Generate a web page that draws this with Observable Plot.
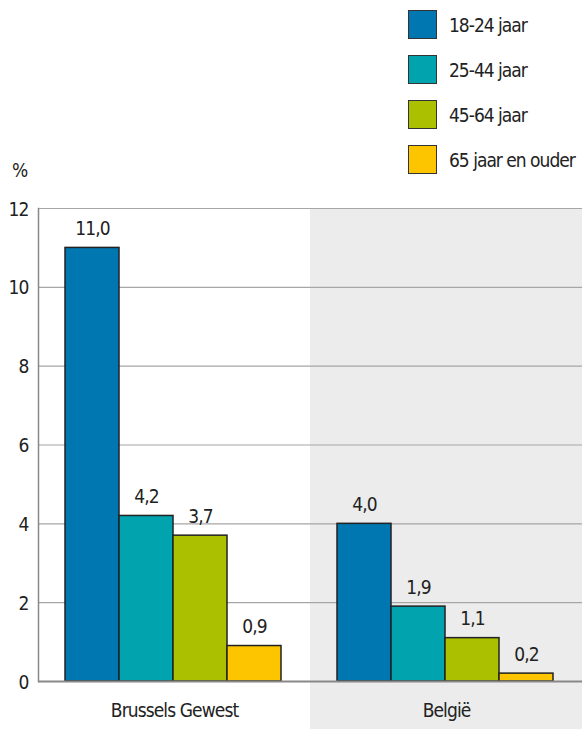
<!DOCTYPE html>
<html>
<head>
<meta charset="utf-8">
<script src="https://cdn.jsdelivr.net/npm/d3@7"></script>
<script src="https://cdn.jsdelivr.net/npm/@observablehq/plot@0.6"></script>
<style>
  html, body { margin: 0; padding: 0; background: #fff; }
  #wrap { position: relative; width: 582px; height: 729px; overflow: hidden;
          font-family: "DejaVu Sans", sans-serif; font-stretch: condensed; color: #222; }
  #chart { position: absolute; left: 0; top: 0; }
  #chart svg text { letter-spacing: -0.9px; font-stretch: condensed; }
  .legend-item { position: absolute; left: 408px; height: 29px; display: flex; align-items: center; }
  .legend-item .sw { width: 27px; height: 27px; border: 1.5px solid #333; box-sizing: content-box; }
  .legend-item .lb { position: absolute; left: 41px; white-space: nowrap; font-size: 19px; letter-spacing: -1px; }
  #unit { position: absolute; left: 12px; top: 159px; font-size: 19px; }
</style>
</head>
<body>
<div id="wrap">
  <div id="chart"></div>
  <div id="legend"></div>
  <div id="unit">%</div>
</div>
<script>
const regions = ["Brussels Gewest", "België"];
const ageGroups = ["18-24 jaar", "25-44 jaar", "45-64 jaar", "65 jaar en ouder"];
const brusselsValues = [11.0, 4.2, 3.7, 0.9];
const belgieValues = [4.0, 1.9, 1.1, 0.2];
const colors = ["#0077b0", "#00a3ae", "#abc100", "#fdc400"];
const yTicks = [0, 2, 4, 6, 8, 10, 12];

const seriesByRegion = [brusselsValues, belgieValues];
const data = [];
regions.forEach((r, ri) => ageGroups.forEach((a, ai) => data.push({region: r, age: a, value: seriesByRegion[ri][ai]})));

const fmt = v => d3.format(".1f")(v).replace(".", ",");
const font = '"DejaVu Sans", sans-serif';

const chart = Plot.plot({
  width: 582,
  height: 729,
  marginTop: 208,
  marginBottom: 48,
  marginLeft: 38,
  marginRight: 0,
  style: {fontFamily: font, fontSize: "19px", color: "#222", background: "transparent", overflow: "visible"},
  fx: {domain: regions, padding: 0, label: null},
  x: {domain: ageGroups, paddingInner: 0, paddingOuter: 0.49, axis: null},
  y: {domain: [0, 12], label: null},
  color: {domain: ageGroups, range: colors},
  marks: [
    Plot.rect([{region: "België"}], {fx: "region", fill: "#ebeceb", insetBottom: -48, insetTop: 1}),
    Plot.gridY(yTicks, {stroke: "#a6a6a6", strokeOpacity: 1, strokeWidth: 1.2}),
    Plot.axisY(yTicks, {tickSize: 0, tickPadding: 10, label: null, dy: 1, fill: "#222"}),
    Plot.axisFx({anchor: "bottom", tickSize: 0, tickPadding: 22, label: null, fill: "#222"}),
    Plot.frame({anchor: "left", fx: () => "Brussels Gewest", stroke: "#888", strokeWidth: 1.5}),
    Plot.barY(data, {fx: "region", x: "age", y: "value", fill: "age", stroke: "#222", strokeWidth: 1.5, dx: -1}),
    Plot.ruleY([0], {stroke: "#888", strokeWidth: 2}),
    Plot.text(data, {fx: "region", x: "age", y: "value", text: d => fmt(d.value), dy: -19, dx: -1, fontSize: 19, fill: "#222"})
  ]
});
document.getElementById("chart").appendChild(chart);

const legend = document.getElementById("legend");
ageGroups.forEach((a, i) => {
  const item = document.createElement("div");
  item.className = "legend-item";
  item.style.top = (10 + i * 45) + "px";
  const sw = document.createElement("div");
  sw.className = "sw";
  sw.style.background = colors[i];
  const lb = document.createElement("div");
  lb.className = "lb";
  lb.textContent = a;
  item.appendChild(sw);
  item.appendChild(lb);
  legend.appendChild(item);
});
</script>
</body>
</html>
